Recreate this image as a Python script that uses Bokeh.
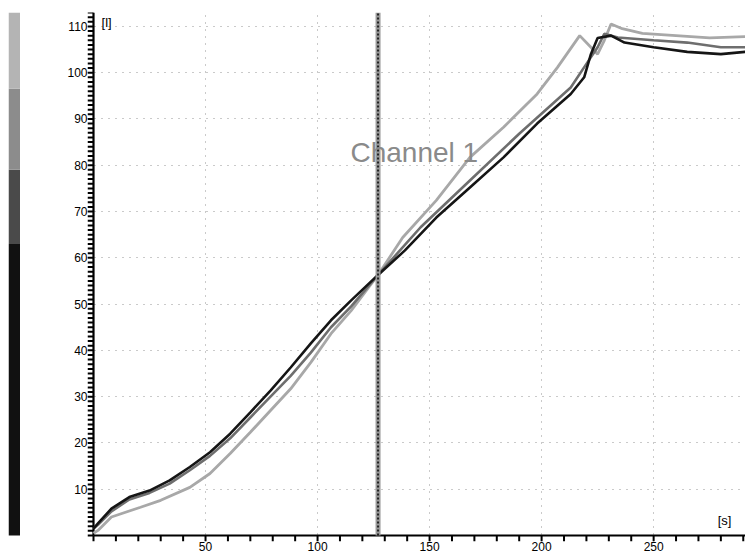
from bokeh.plotting import figure
from bokeh.layouts import row
from bokeh.models import FixedTicker, Label, Range1d
from bokeh.embed import file_html
from bokeh.resources import INLINE

# ---- data ----
x_ticks = [50, 100, 150, 200, 250]
y_ticks = [10, 20, 30, 40, 50, 60, 70, 80, 90, 100, 110]
x_tick_marks = list(range(0, 291, 10))
y_tick_marks = list(range(0, 114, 1))

black_x = [0, 2, 8, 16, 25, 34, 43, 52, 61, 70, 79, 88, 97, 106, 115, 127, 139, 153, 168, 183, 198, 213, 219, 222, 225, 231, 237, 250, 265, 280, 291]
black_y = [1.5, 2.6, 5.8, 8.3, 9.7, 11.9, 14.8, 18.0, 22.0, 26.6, 31.3, 36.3, 41.5, 46.5, 50.8, 56.3, 61.6, 68.7, 75.2, 81.7, 89.0, 95.4, 99.0, 104.0, 107.5, 108.0, 106.5, 105.5, 104.5, 104.0, 104.5]

gray_x = [0, 2, 8, 16, 25, 34, 43, 52, 61, 70, 79, 88, 97, 106, 115, 127, 146, 168, 190, 213, 220, 225, 228, 234, 250, 265, 280, 291]
gray_y = [1.5, 2.3, 5.2, 7.8, 9.2, 11.2, 14.1, 17.2, 21.0, 25.5, 30.0, 34.5, 39.5, 45.0, 49.5, 56.3, 66.6, 76.7, 86.8, 96.8, 101.9, 105.5, 108.4, 107.6, 107.0, 106.5, 105.5, 105.5]

light_x = [0, 2, 8, 21, 30, 43, 52, 61, 70, 79, 88, 97, 106, 115, 127, 138, 153, 168, 183, 198, 207, 217, 222, 225, 228, 231, 236, 245, 260, 275, 291]
light_y = [0.5, 1.1, 4.0, 6.1, 7.6, 10.4, 13.4, 17.7, 22.3, 27.0, 31.7, 37.4, 43.6, 48.6, 56.3, 64.4, 72.4, 81.7, 88.2, 95.4, 101.1, 108.0, 105.5, 104.0, 107.0, 110.5, 109.5, 108.5, 108.0, 107.5, 107.8]

cursor_x = 127
channel_label = "Channel 1"
channel_pos = (114.7, 82.8)
y_unit = "[l]"
x_unit = "[s]"

bar_bottom = [0, 63, 79, 96.5]
bar_top = [63, 79, 96.5, 113]
bar_colors = ["#111111", "#4a4a4a", "#8c8c8c", "#b4b4b4"]

# ---- geometry ----
PX_X = 2.24     # pixels per x unit
PX_Y = 4.628    # pixels per y unit
TICK = 6        # tick length in px
X_START = -TICK / PX_X
Y_START = -TICK / PX_Y
X_END = 291
Y_END = 113
H = 556
TOP = 12
BOT = 15

yr = Range1d(Y_START, Y_END)

# ---- colour bar ----
bar = figure(width=20, height=H, x_range=Range1d(0, 1), y_range=yr,
             output_backend="svg", toolbar_location=None,
             min_border_left=8, min_border_right=0,
             min_border_top=TOP, min_border_bottom=BOT)
bar.axis.visible = False
bar.grid.visible = False
bar.outline_line_color = None
bar.quad(left=0, right=1, bottom=bar_bottom, top=bar_top, color=bar_colors, line_color=None)

# ---- main chart ----
p = figure(width=725, height=H, x_range=Range1d(X_START, X_END), y_range=yr,
           output_backend="svg", toolbar_location=None,
           min_border_left=67, min_border_right=0,
           min_border_top=TOP, min_border_bottom=BOT)
p.outline_line_color = None

p.xaxis.ticker = FixedTicker(ticks=x_ticks)
p.yaxis.ticker = FixedTicker(ticks=y_ticks)
for ax in (p.xaxis, p.yaxis):
    ax.axis_line_color = None
    ax.major_tick_line_color = None
    ax.minor_tick_line_color = None
    ax.major_tick_in = 0
    ax.major_tick_out = 0
    ax.minor_tick_in = 0
    ax.minor_tick_out = 0
    ax.major_label_text_font = "Liberation Sans"
    ax.major_label_text_font_size = "12px"
    ax.major_label_text_color = "black"
    ax.major_label_standoff = 0

p.xgrid.ticker = FixedTicker(ticks=x_ticks)
p.ygrid.ticker = FixedTicker(ticks=y_ticks)
p.grid.grid_line_color = "#666666"
p.grid.grid_line_dash = "1 6"
p.grid.grid_line_width = 1
p.grid.grid_line_alpha = 0.7

# axis lines and tick marks (heavy, like the scanned original)
p.segment(x0=[0, 0], y0=[0, 0], x1=[X_END, 0], y1=[0, Y_END], line_color="black", line_width=2.2)
p.segment(x0=x_tick_marks, y0=[0] * len(x_tick_marks), x1=x_tick_marks,
          y1=[Y_START] * len(x_tick_marks), line_color="black", line_width=2)
p.segment(x0=[0] * len(y_tick_marks), y0=y_tick_marks, x1=[X_START] * len(y_tick_marks),
          y1=y_tick_marks, line_color="black", line_width=2)

p.line(light_x, light_y, line_color="#a8a8a8", line_width=2.8)
p.line(gray_x, gray_y, line_color="#6e6e6e", line_width=2.6)
p.line(black_x, black_y, line_color="#151515", line_width=2.6)

p.segment(x0=[cursor_x], y0=[0], x1=[cursor_x], y1=[Y_END], line_color="#9a9a9a", line_width=5)
p.segment(x0=[cursor_x], y0=[0], x1=[cursor_x], y1=[Y_END], line_color="#222222", line_width=2, line_dash="2 2")

p.add_layout(Label(x=channel_pos[0], y=channel_pos[1], text=channel_label,
                   text_font="Liberation Sans", text_font_size="28px",
                   text_color="#8a8a8a", text_baseline="alphabetic"))
p.add_layout(Label(x=3.6, y=112.4, text=y_unit, text_font="Liberation Sans",
                   text_font_size="13px", text_color="black", text_baseline="top"))
p.add_layout(Label(x=278.6, y=1.7, text=x_unit, text_font="Liberation Sans",
                   text_font_size="13px", text_color="black", text_baseline="bottom"))

layout = row(bar, p, spacing=0)
open("out.html", "w").write(file_html(layout, INLINE))
